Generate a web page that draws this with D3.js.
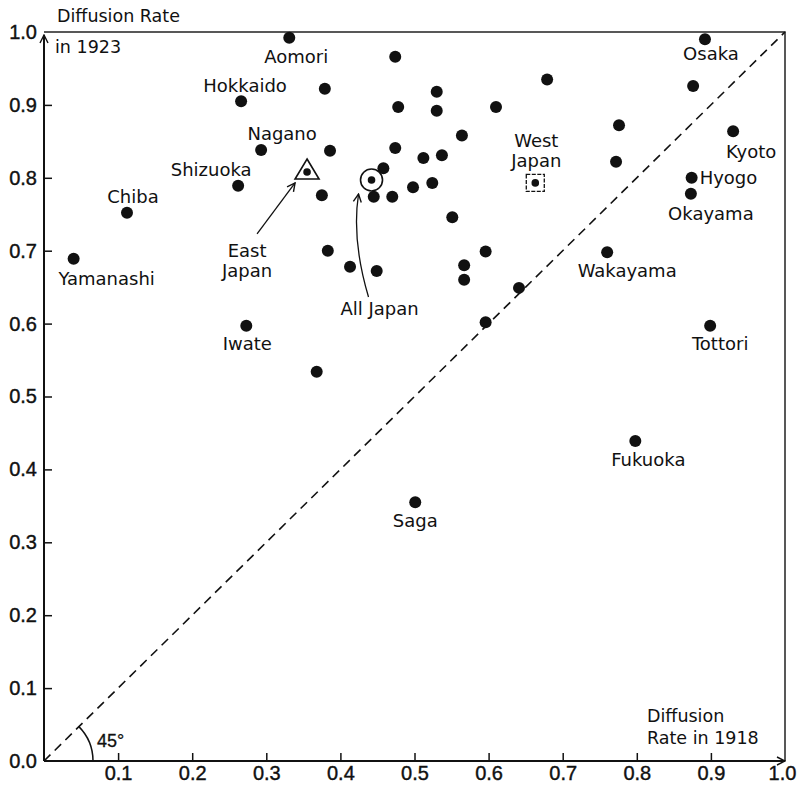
<!DOCTYPE html>
<html>
<head>
<meta charset="utf-8">
<script src="https://cdn.jsdelivr.net/npm/d3@7"></script>
<style>
  body { margin: 0; background: #fff; }
  svg text { fill: #111; }
</style>
</head>
<body>
<div id="chart"></div>
<script>
// prefecture diffusion rates, 1918 (x) vs 1923 (y); "" = unlabeled dot
const prefNames = [
  "Aomori", "Hokkaido", "Nagano", "Shizuoka", "Chiba", "Yamanashi", "Iwate", "",
  "", "", "", "", "", "", "", "", "", "", "", "", "", "", "", "", "", "", "",
  "", "", "", "", "", "", "", "", "", "",
  "Osaka", "", "Kyoto", "Hyogo", "Okayama", "Wakayama", "Tottori", "Fukuoka", "Saga"
];
const rate1918 = [
  0.331, 0.266, 0.293, 0.262, 0.112, 0.040, 0.273, 0.368,
  0.379, 0.474, 0.478, 0.386, 0.474, 0.458, 0.375, 0.445, 0.470, 0.498, 0.512, 0.524, 0.537, 0.530, 0.530, 0.564, 0.610, 0.679, 0.551,
  0.383, 0.413, 0.449, 0.596, 0.567, 0.567, 0.641, 0.596, 0.776, 0.772,
  0.892, 0.876, 0.930, 0.874, 0.873, 0.760, 0.899, 0.798, 0.501
];
const rate1923 = [
  0.992, 0.905, 0.838, 0.789, 0.752, 0.689, 0.597, 0.534,
  0.922, 0.966, 0.897, 0.837, 0.841, 0.813, 0.776, 0.774, 0.774, 0.787, 0.827, 0.793, 0.831, 0.918, 0.892, 0.858, 0.897, 0.935, 0.746,
  0.700, 0.678, 0.672, 0.699, 0.680, 0.660, 0.649, 0.602, 0.872, 0.822,
  0.990, 0.926, 0.864, 0.800, 0.778, 0.698, 0.597, 0.439, 0.355
];

// regional averages
const regionNames = ["East Japan", "All Japan", "West Japan"];
const region1918 = [0.355, 0.442, 0.663];
const region1923 = [0.808, 0.797, 0.793];

const xTicks = [0.1, 0.2, 0.3, 0.4, 0.5, 0.6, 0.7, 0.8, 0.9, 1.0];
const yTicks = [0.0, 0.1, 0.2, 0.3, 0.4, 0.5, 0.6, 0.7, 0.8, 0.9, 1.0];

// label placement relative to the dot: [dx, dy, anchor]
const labelPos = {
  Aomori: [7, 25, "middle"], Hokkaido: [4, -9, "middle"], Nagano: [21, -10, "middle"],
  Shizuoka: [-27, -10, "middle"], Chiba: [6, -10, "middle"], Yamanashi: [33, 26, "middle"],
  Iwate: [1, 24, "middle"], Osaka: [6, 21, "middle"], Kyoto: [18, 27, "middle"],
  Hyogo: [8, 6, "start"], Okayama: [20, 26, "middle"], Wakayama: [20, 25, "middle"],
  Tottori: [10, 24, "middle"], Fukuoka: [13, 25, "middle"], Saga: [0, 25, "middle"]
};

const width = 797, height = 788;
const mLeft = 44, mRight = 785, mTop = 32, mBottom = 761;
const labelFont = "'DejaVu Sans', sans-serif";
const tickFont = "'Liberation Sans Narrow', 'Liberation Sans', sans-serif";

const svg = d3.select("#chart").append("svg")
    .attr("width", width)
    .attr("height", height);

const defs = svg.append("defs");
defs.append("marker")
    .attr("id", "arrow")
    .attr("viewBox", "0 0 10 10")
    .attr("refX", 9).attr("refY", 5)
    .attr("markerWidth", 10).attr("markerHeight", 10)
    .attr("markerUnits", "userSpaceOnUse")
    .attr("orient", "auto")
  .append("path")
    .attr("d", "M1,1 L9,5 L1,9")
    .attr("fill", "none")
    .attr("stroke", "#111")
    .attr("stroke-width", 1.4);

const x = d3.scaleLinear().domain([0, 1]).range([mLeft, mRight]);
const y = d3.scaleLinear().domain([0, 1]).range([mBottom, mTop]);

// frame (top + right)
svg.append("path")
    .attr("d", `M${x(0)},${y(1)} H${x(1)} V${y(0)}`)
    .attr("fill", "none")
    .attr("stroke", "#222")
    .attr("stroke-width", 1.5);

// axes
const xAxis = svg.append("g")
    .attr("transform", `translate(0,${y(0)})`)
    .call(d3.axisBottom(x).tickValues(xTicks).tickFormat(d3.format(".1f"))
      .tickSizeInner(-8).tickSizeOuter(0).tickPadding(5));
const yAxis = svg.append("g")
    .attr("transform", `translate(${x(0)},0)`)
    .call(d3.axisLeft(y).tickValues(yTicks).tickFormat(d3.format(".1f"))
      .tickSizeInner(-8).tickSizeOuter(0).tickPadding(7));
[xAxis, yAxis].forEach(g => {
  g.select(".domain").remove();
  g.selectAll(".tick line").attr("stroke", "#111").attr("stroke-width", 1.5);
  g.selectAll(".tick text")
    .attr("font-family", tickFont)
    .attr("font-size", 20)
    .attr("fill", "#111")
    .attr("stroke", "#111")
    .attr("stroke-width", 0.4);
});
yAxis.selectAll(".tick").filter(d => d === 0 || d === 1).select("line").remove();
xAxis.selectAll(".tick").filter(d => d === 1).select("line").remove();
xAxis.selectAll(".tick").filter(d => d === 1).select("text").attr("dx", -3);

svg.append("line")
    .attr("x1", x(0)).attr("y1", y(0))
    .attr("x2", x(1)).attr("y2", y(0))
    .attr("stroke", "#111").attr("stroke-width", 2)
    .attr("marker-end", "url(#arrow)");
svg.append("line")
    .attr("x1", x(0)).attr("y1", y(0))
    .attr("x2", x(0)).attr("y2", y(1) + 3)
    .attr("stroke", "#111").attr("stroke-width", 2)
    .attr("marker-end", "url(#arrow)");

// 45 degree line
svg.append("line")
    .attr("x1", x(0)).attr("y1", y(0))
    .attr("x2", x(1)).attr("y2", y(1))
    .attr("stroke", "#111").attr("stroke-width", 1.6)
    .attr("stroke-dasharray", "9,6");

// angle arc
const r = 49;
svg.append("path")
    .attr("d", `M${x(0) + r},${y(0)} A${r},${r} 0 0 0 ${x(0) + r * Math.SQRT1_2},${y(0) - r * Math.SQRT1_2}`)
    .attr("fill", "none").attr("stroke", "#111").attr("stroke-width", 1.5);
svg.append("text")
    .attr("x", 97).attr("y", 747)
    .attr("font-family", tickFont).attr("font-size", 18)
    .attr("stroke", "#111").attr("stroke-width", 0.3)
    .text("45°");

// axis titles
const title = (lines, tx, ty, lh) => {
  const t = svg.append("text")
      .attr("font-family", labelFont).attr("font-size", 17.5);
  lines.forEach((s, i) => t.append("tspan").attr("x", tx).attr("y", ty + i * lh).text(s));
};
title(["Diffusion Rate"], 57, 22, 0);
title(["in 1923"], 55, 53, 0);
title(["Diffusion", "Rate in 1918"], 647, 722, 22);

// prefecture dots
const pts = prefNames.map((n, i) => ({name: n, a: rate1918[i], b: rate1923[i]}));
svg.append("g").selectAll("circle")
  .data(pts)
  .enter().append("circle")
    .attr("cx", d => x(d.a))
    .attr("cy", d => y(d.b))
    .attr("r", 6)
    .attr("fill", "#111");

svg.append("g").selectAll("text")
  .data(pts.filter(d => d.name))
  .enter().append("text")
    .attr("x", d => x(d.a) + labelPos[d.name][0])
    .attr("y", d => y(d.b) + labelPos[d.name][1])
    .attr("text-anchor", d => labelPos[d.name][2])
    .attr("font-family", labelFont)
    .attr("font-size", 18)
    .text(d => d.name);

// regional markers
const reg = regionNames.map((n, i) => ({name: n, cx: x(region1918[i]), cy: y(region1923[i])}));
const regG = svg.append("g");
regG.selectAll("circle.inner")
  .data(reg)
  .enter().append("circle")
    .attr("class", "inner")
    .attr("cx", d => d.cx).attr("cy", d => d.cy)
    .attr("r", 3.8).attr("fill", "#111");

const east = reg[0], all = reg[1], west = reg[2];
regG.append("path")
    .attr("d", `M${east.cx},${east.cy - 13} L${east.cx + 12},${east.cy + 7} L${east.cx - 12},${east.cy + 7} Z`)
    .attr("fill", "none").attr("stroke", "#111").attr("stroke-width", 1.6);
regG.append("circle")
    .attr("cx", all.cx).attr("cy", all.cy).attr("r", 11)
    .attr("fill", "none").attr("stroke", "#111").attr("stroke-width", 1.6);
regG.append("rect")
    .attr("x", west.cx - 9).attr("y", west.cy - 8.5)
    .attr("width", 18).attr("height", 17)
    .attr("fill", "none").attr("stroke", "#111").attr("stroke-width", 1.3)
    .attr("stroke-dasharray", "4,1.5");

const regionLabel = (d, lines, dx, dy, lh) => {
  const t = svg.append("text")
      .attr("font-family", labelFont).attr("font-size", 18)
      .attr("text-anchor", "middle");
  lines.forEach((s, i) =>
    t.append("tspan").attr("x", d.cx + dx).attr("y", d.cy + dy + i * lh).text(s));
};
regionLabel(east, east.name.split(" "), -60, 85, 20);
regionLabel(all, [all.name], 8, 135, 0);
regionLabel(west, west.name.split(" "), 1, -36, 20);

// pointer arrows
svg.append("path")
    .attr("d", `M${east.cx - 50},${east.cy + 62} L${east.cx - 12},${east.cy + 11}`)
    .attr("fill", "none").attr("stroke", "#111").attr("stroke-width", 1.3)
    .attr("marker-end", "url(#arrow)");
svg.append("path")
    .attr("d", `M${all.cx - 3},${all.cy + 117} Q${all.cx - 20},${all.cy + 60} ${all.cx - 13},${all.cy + 14}`)
    .attr("fill", "none").attr("stroke", "#111").attr("stroke-width", 1.3)
    .attr("marker-end", "url(#arrow)");
</script>
</body>
</html>
